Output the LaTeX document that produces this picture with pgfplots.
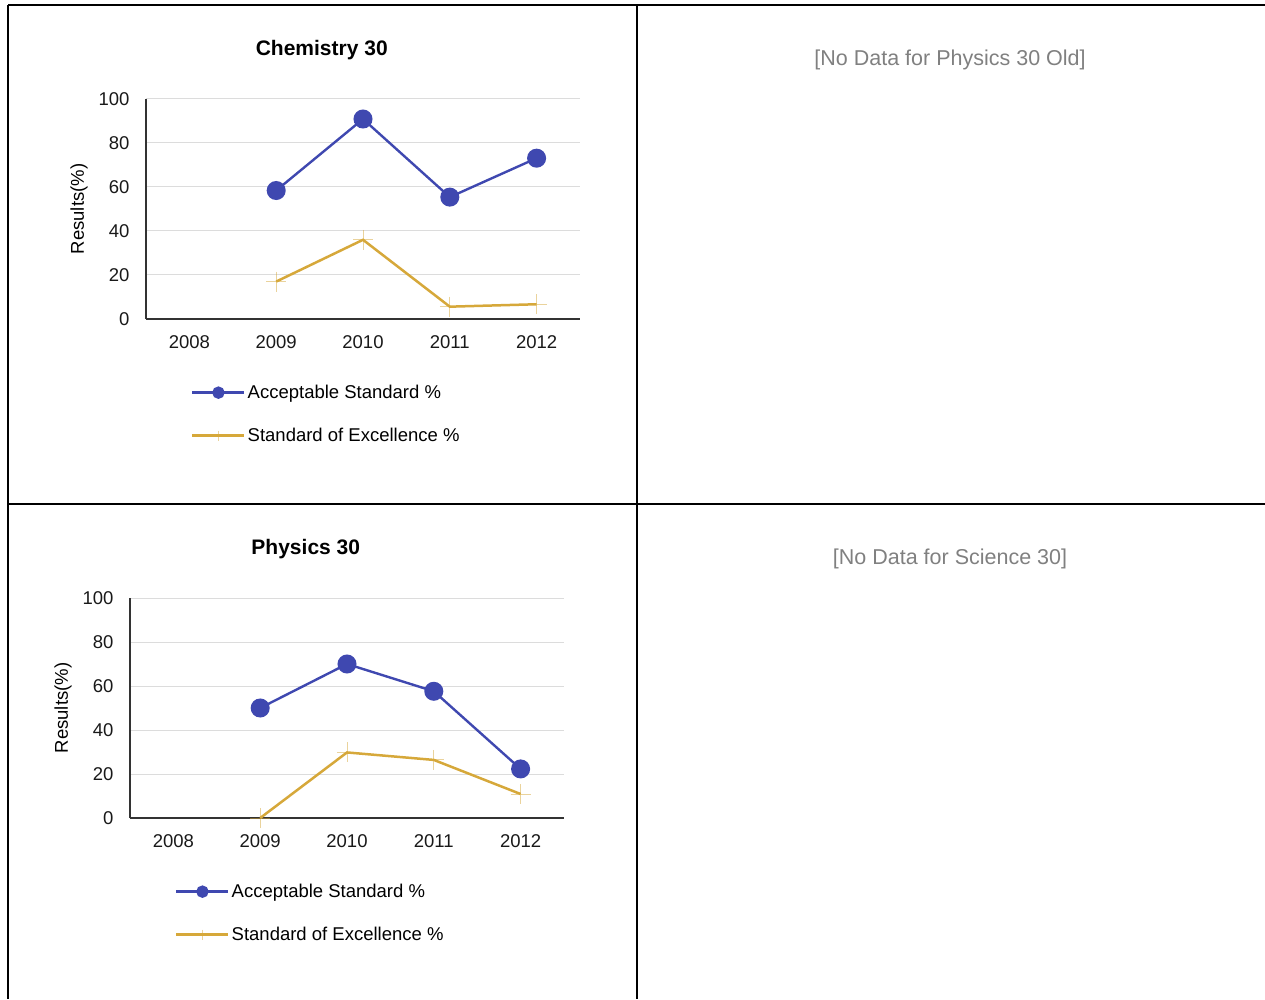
\documentclass[border=0pt]{standalone}
\usepackage{fontspec}
\setmainfont{Liberation Sans}
\usepackage{pgfplots}
\pgfplotsset{compat=1.18}

\definecolor{blueS}{RGB}{63,72,176}
\definecolor{goldS}{RGB}{214,168,58}
\definecolor{gridc}{RGB}{220,220,220}
\definecolor{axisc}{RGB}{51,51,51}
\definecolor{nodata}{RGB}{128,128,128}

\newcommand{\fs}{\fontsize{18.5}{22}\selectfont}

% common look of both result charts
\pgfplotsset{
    results/.style={
        scale only axis,
        width=434pt, height=220pt,
        xmin=-0.5, xmax=4.5,
        ymin=0, ymax=100,
        xtick={0,1,2,3,4},
        xticklabels={2008,2009,2010,2011,2012},
        ytick={0,20,40,60,80,100},
        axis x line=bottom, axis y line=left,
        axis line style={-, axisc, line width=1.3pt},
        major tick length=0pt,
        ymajorgrids,
        grid style={gridc, line width=1pt},
        /pgf/number format/assume math mode=true,
        tick label style={font=\fs, text=black!90},
        yticklabel style={xshift=-13pt},
        xticklabel style={yshift=-13pt},
        ylabel={Results(\%)},
        ylabel style={at={(axis description cs:-0.154,0.5)}, anchor=center, font=\fs},
        title style={at={(axis description cs:0.405,1.195)}, anchor=center, font=\fontsize{21}{25}\selectfont\bfseries},
        legend cell align=left,
        legend style={at={(axis description cs:0.1037,-0.30)}, anchor=north west,
            draw=none, fill=none, font=\fs, inner sep=0pt,
            nodes={inner sep=0pt}, row sep=28pt,
            /tikz/every odd column/.append style={column sep=2pt}},
        legend image code/.code={
            \draw[#1, mark size=5pt, mark repeat=2, mark phase=2]
                plot coordinates {(0pt,0pt) (26pt,0pt) (52pt,0pt)};},
    },
    accept/.style={color=blueS, line width=2.4pt, mark=*, mark size=8.3pt, mark options={solid}},
    excel/.style={color=goldS, line width=2.5pt, mark=+, mark size=10pt,
        mark options={solid, line width=0.9pt, draw opacity=0.5}},
}

\begin{document}
\begin{tikzpicture}
\useasboundingbox (0pt,0pt) rectangle (1265pt,999pt);

% table borders
\draw[line width=2.5pt, black] (8pt,994pt) -- (1265pt,994pt);
\draw[line width=2.5pt, black] (8pt,994pt) -- (8pt,0pt);
\draw[line width=2.5pt, black] (637pt,994pt) -- (637pt,0pt);
\draw[line width=2.5pt, black] (8pt,495pt) -- (1265pt,495pt);

% Chemistry 30
\begin{axis}[results, at={(146pt,680pt)}, anchor=south west, title={Chemistry 30}]
    \addplot[accept] coordinates {(1,58.4) (2,90.9) (3,55.4) (4,73.1)};
    \addlegendentry{Acceptable Standard \%}
    \addplot[excel] coordinates {(1,17.0) (2,36.0) (3,5.6) (4,6.7)};
    \addlegendentry{Standard of Excellence \%}
\end{axis}

% Physics 30
\begin{axis}[results, at={(130pt,181pt)}, anchor=south west, title={Physics 30}]
    \addplot[accept] coordinates {(1,50.0) (2,70.0) (3,57.6) (4,22.3)};
    \addlegendentry{Acceptable Standard \%}
    \addplot[excel] coordinates {(1,0.0) (2,29.8) (3,26.4) (4,10.9)};
    \addlegendentry{Standard of Excellence \%}
\end{axis}

\node[font=\fontsize{21.5}{26}\selectfont, text=nodata] at (950pt,939pt) {[No Data for Physics 30 Old]};
\node[font=\fontsize{21.5}{26}\selectfont, text=nodata] at (950pt,440pt) {[No Data for Science 30]};
\end{tikzpicture}
\end{document}
